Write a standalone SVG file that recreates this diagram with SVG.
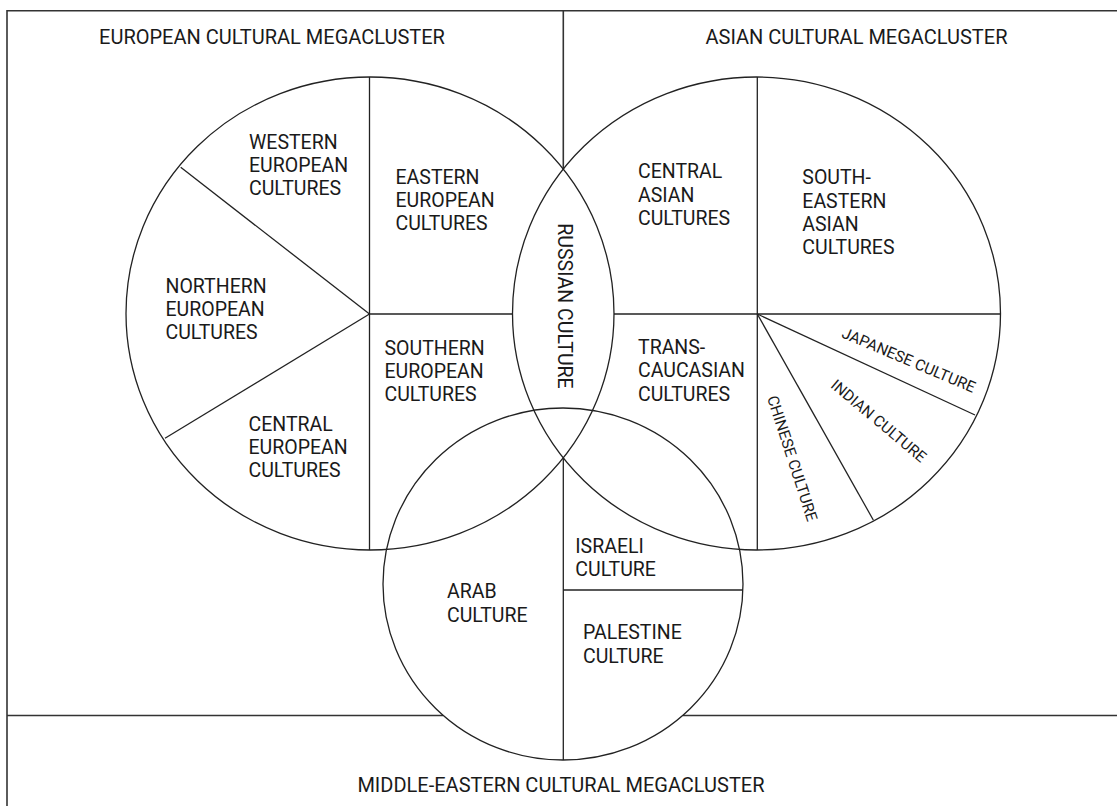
<svg xmlns="http://www.w3.org/2000/svg" width="1117" height="806" viewBox="0 0 1117 806">
<style>
  .ln{fill:none;stroke:#222;stroke-width:1.3}
  .fr{fill:none;stroke:#333;stroke-width:1.6}
  .lb{font-family:Roboto,"Liberation Sans",sans-serif;font-size:19.5px;fill:#1a1a1a}
  .tt{font-family:Roboto,"Liberation Sans",sans-serif;font-size:20px;fill:#1a1a1a;text-anchor:middle}
  .sm{font-family:Roboto,"Liberation Sans",sans-serif;font-size:15.5px;fill:#1a1a1a;text-anchor:middle}
</style>
<rect x="0" y="0" width="1117" height="806" fill="#fff"/>
<g id="frame">
  <line class="fr" x1="7" y1="10.7" x2="1117" y2="10.7"/>
  <line class="fr" x1="7" y1="10" x2="7" y2="806"/>
  <line class="fr" x1="563.3" y1="10.7" x2="563.3" y2="169"/>
  <line class="fr" x1="7" y1="715.5" x2="443" y2="715.5"/>
  <line class="fr" x1="683" y1="715.5" x2="1117" y2="715.5"/>
  <text class="tt" x="272" y="43.5">EUROPEAN CULTURAL MEGACLUSTER</text>
  <text class="tt" x="856.5" y="43.5">ASIAN CULTURAL MEGACLUSTER</text>
  <text class="tt" x="561" y="791.5">MIDDLE-EASTERN CULTURAL MEGACLUSTER</text>
</g>
<g id="connectors">
  <line class="ln" x1="369.5" y1="77" x2="369.5" y2="550"/>
  <line class="ln" x1="369.5" y1="314" x2="512.5" y2="314"/>
  <line class="ln" x1="369.5" y1="314" x2="180.7" y2="167.3"/>
  <line class="ln" x1="369.5" y1="314" x2="165" y2="438.3"/>
  <line class="ln" x1="757.3" y1="77" x2="757.3" y2="550"/>
  <line class="ln" x1="614" y1="314" x2="1000.5" y2="314"/>
  <line class="ln" x1="757.3" y1="314" x2="975" y2="415"/>
  <line class="ln" x1="757.3" y1="314" x2="873.3" y2="520"/>
  <line class="ln" x1="563.3" y1="458" x2="563.3" y2="760"/>
  <line class="ln" x1="563.3" y1="590" x2="743" y2="590"/>
</g>
<g id="european-cluster">
  <ellipse class="ln" cx="370" cy="313.5" rx="244" ry="236.5"/>
</g>
<g id="asian-cluster">
  <ellipse class="ln" cx="756.5" cy="313.5" rx="244" ry="236.5"/>
</g>
<g id="middle-eastern-cluster">
  <ellipse class="ln" cx="563" cy="584" rx="180" ry="176"/>
</g>
<g id="western-european">
  <text class="lb" x="249" y="149.3"><tspan x="249">WESTERN</tspan><tspan x="249" dy="23">EUROPEAN</tspan><tspan x="249" dy="23">CULTURES</tspan></text>
</g>
<g id="eastern-european">
  <text class="lb" x="395.5" y="184"><tspan x="395.5">EASTERN</tspan><tspan x="395.5" dy="23">EUROPEAN</tspan><tspan x="395.5" dy="23">CULTURES</tspan></text>
</g>
<g id="northern-european">
  <text class="lb" x="165.5" y="293.3"><tspan x="165.5">NORTHERN</tspan><tspan x="165.5" dy="23">EUROPEAN</tspan><tspan x="165.5" dy="23">CULTURES</tspan></text>
</g>
<g id="southern-european">
  <text class="lb" x="384.5" y="355"><tspan x="384.5">SOUTHERN</tspan><tspan x="384.5" dy="23">EUROPEAN</tspan><tspan x="384.5" dy="23">CULTURES</tspan></text>
</g>
<g id="central-european">
  <text class="lb" x="248.5" y="430.7"><tspan x="248.5">CENTRAL</tspan><tspan x="248.5" dy="23">EUROPEAN</tspan><tspan x="248.5" dy="23">CULTURES</tspan></text>
</g>
<g id="russian">
  <text class="lb" text-anchor="middle" transform="translate(564.7,306) rotate(90)" x="0" y="7">RUSSIAN CULTURE</text>
</g>
<g id="central-asian">
  <text class="lb" x="638" y="178.3"><tspan x="638">CENTRAL</tspan><tspan x="638" dy="23.3">ASIAN</tspan><tspan x="638" dy="23.3">CULTURES</tspan></text>
</g>
<g id="south-eastern-asian">
  <text class="lb" x="802.3" y="184.3"><tspan x="802.3">SOUTH-</tspan><tspan x="802.3" dy="23.3">EASTERN</tspan><tspan x="802.3" dy="23.3">ASIAN</tspan><tspan x="802.3" dy="23.3">CULTURES</tspan></text>
</g>
<g id="trans-caucasian">
  <text class="lb" x="638" y="354"><tspan x="638">TRANS-</tspan><tspan x="638" dy="23.3">CAUCASIAN</tspan><tspan x="638" dy="23.3">CULTURES</tspan></text>
</g>
<g id="japanese">
  <text class="sm" transform="translate(908.8,360) rotate(23)" x="0" y="5.5">JAPANESE CULTURE</text>
</g>
<g id="indian">
  <text class="sm" transform="translate(878.8,420.8) rotate(40)" x="0" y="5.5">INDIAN CULTURE</text>
</g>
<g id="chinese">
  <text class="sm" transform="translate(792.5,458.3) rotate(72)" x="0" y="5.5">CHINESE CULTURE</text>
</g>
<g id="arab">
  <text class="lb" x="447" y="598.3"><tspan x="447">ARAB</tspan><tspan x="447" dy="23.4">CULTURE</tspan></text>
</g>
<g id="israeli">
  <text class="lb" x="575.3" y="553.3"><tspan x="575.3">ISRAELI</tspan><tspan x="575.3" dy="22.4">CULTURE</tspan></text>
</g>
<g id="palestine">
  <text class="lb" x="583" y="639.3"><tspan x="583">PALESTINE</tspan><tspan x="583" dy="23.6">CULTURE</tspan></text>
</g>
</svg>
